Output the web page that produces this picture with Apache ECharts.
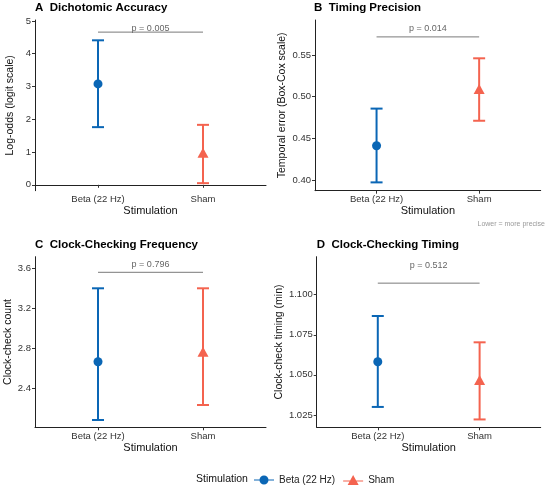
<!DOCTYPE html>
<html><head><meta charset="utf-8">
<script src="https://cdn.jsdelivr.net/npm/echarts@6/dist/echarts.min.js"></script>
<style>html,body{margin:0;padding:0;background:#fff}#c{width:550px;height:489px}</style>
</head><body><div id="c"></div>
<script>
const categories = ['Beta (22 Hz)', 'Sham'];
const panelTitles = ['A  Dichotomic Accuracy', 'B  Timing Precision', 'C  Clock-Checking Frequency', 'D  Clock-Checking Timing'];
const yNames = ['Log-odds (logit scale)', 'Temporal error (Box-Cox scale)', 'Clock-check count', 'Clock-check timing (min)'];
const meanBeta = [3.08, 0.441, 2.666, 1.0582];
const lowBeta = [1.76, 0.397, 2.083, 1.0300];
const highBeta = [4.41, 0.4856, 3.40, 1.0867];
const meanSham = [0.98, 0.509, 2.766, 1.0468];
const lowSham = [0.05, 0.471, 2.233, 1.0222];
const highSham = [1.83, 0.546, 3.40, 1.0703];
const pLabels = ['p = 0.005', 'p = 0.014', 'p = 0.796', 'p = 0.512'];
const pLineY = [4.66, 0.5717, 3.56, 1.1072];
const pTextY = [4.76, 0.582, 3.633, 1.1184];
const yTicks = [[0, 1, 2, 3, 4, 5], [0.40, 0.45, 0.50, 0.55], [2.4, 2.8, 3.2, 3.6], [1.025, 1.050, 1.075, 1.100]];
const yDecimals = [0, 2, 1, 3];
const yMin = [-0.18, 0.387, 2.01, 1.0173];
const yMax = [5.03, 0.592, 3.716, 1.1237];
const note = 'Lower = more precise';

const BLUE = '#0A66B5', RED = '#F4634F', FONT = 'Liberation Sans, Arial, sans-serif';
const grids = [
  {left: 35, top: 20, width: 231, height: 170.7},
  {left: 315, top: 20, width: 225.7, height: 170.7},
  {left: 35, top: 256.7, width: 231, height: 170.6},
  {left: 316.7, top: 256.7, width: 224, height: 170.6}
];
const yNameGap = [19, 27, 21, 31];
const titlePos = [[35, 2], [314, 2], [35, 239], [316.7, 239]];

const xAxes = [], yAxes = [], series = [], titles = [];
function errRender(color) {
  return function (params, api) {
    const x = api.value(0), lo = api.value(1), hi = api.value(2);
    const a = api.coord([x, lo]), b = api.coord([x, hi]);
    const hw = 6, st = {stroke: color, lineWidth: 2};
    return {type: 'group', children: [
      {type: 'line', shape: {x1: a[0], y1: a[1], x2: b[0], y2: b[1]}, style: st},
      {type: 'line', shape: {x1: a[0] - hw, y1: a[1], x2: a[0] + hw, y2: a[1]}, style: st},
      {type: 'line', shape: {x1: b[0] - hw, y1: b[1], x2: b[0] + hw, y2: b[1]}, style: st}
    ]};
  };
}
for (let i = 0; i < 4; i++) {
  xAxes.push({
    gridIndex: i, type: 'value', min: 0.4, max: 2.6,
    name: 'Stimulation', nameLocation: 'middle', nameGap: 15,
    nameTextStyle: {fontSize: 11, color: '#111', fontFamily: FONT},
    axisLine: {show: true, lineStyle: {color: '#222', width: 1}},
    axisTick: {show: true, length: 3, lineStyle: {color: '#333'}, customValues: [1, 2]},
    axisLabel: {customValues: [1, 2], formatter: v => categories[Math.round(v) - 1], fontSize: 9.5, color: '#333', margin: 4, fontFamily: FONT},
    splitLine: {show: false}
  });
  yAxes.push({
    gridIndex: i, type: 'value', min: yMin[i], max: yMax[i],
    name: yNames[i], nameLocation: 'middle', nameGap: yNameGap[i], nameRotate: 90,
    nameTextStyle: {fontSize: 10.5, color: '#111', fontFamily: FONT},
    axisLine: {show: true, lineStyle: {color: '#222', width: 1}},
    axisTick: {show: true, length: 3, lineStyle: {color: '#333'}, customValues: yTicks[i]},
    axisLabel: {customValues: yTicks[i], formatter: v => Number(v).toFixed(yDecimals[i]), fontSize: 9.5, color: '#333', margin: 4, fontFamily: FONT},
    splitLine: {show: false}
  });
  titles.push({text: panelTitles[i], left: titlePos[i][0], top: titlePos[i][1], padding: 0,
    textStyle: {fontSize: 11.5, fontWeight: 'bold', color: '#000', fontFamily: FONT}});
  series.push({type: 'custom', name: 'eb' + i + 'a', xAxisIndex: i, yAxisIndex: i, renderItem: errRender(BLUE),
    data: [[1, lowBeta[i], highBeta[i]]], encode: {x: 0, y: [1, 2]}, silent: true, z: 2});
  series.push({type: 'custom', name: 'eb' + i + 'b', xAxisIndex: i, yAxisIndex: i, renderItem: errRender(RED),
    data: [[2, lowSham[i], highSham[i]]], encode: {x: 0, y: [1, 2]}, silent: true, z: 2});
  series.push({type: 'scatter', name: categories[0], xAxisIndex: i, yAxisIndex: i, symbol: 'circle', symbolSize: 9,
    itemStyle: {color: BLUE, opacity: 1}, data: [[1, meanBeta[i]]], z: 3});
  series.push({type: 'scatter', name: categories[1], xAxisIndex: i, yAxisIndex: i, symbol: 'triangle', symbolSize: [11, 10],
    itemStyle: {color: RED, opacity: 1}, data: [[2, meanSham[i]]], z: 3});
  const lbl = pLabels[i];
  series.push({type: 'custom', name: 'p' + i, xAxisIndex: i, yAxisIndex: i,
    renderItem: function (params, api) {
      const y = api.value(2), ty = api.value(3);
      const a = api.coord([api.value(0), y]), b = api.coord([api.value(1), y]);
      const t = api.coord([(api.value(0) + api.value(1)) / 2, ty]);
      return {type: 'group', children: [
        {type: 'line', shape: {x1: a[0], y1: a[1], x2: b[0], y2: b[1]}, style: {stroke: '#7a7a7a', lineWidth: 1}},
        {type: 'text', x: t[0], y: t[1], style: {text: lbl, fill: '#666', fontSize: 9, fontFamily: FONT, align: 'center', verticalAlign: 'middle'}}
      ]};
    },
    data: [[1, 2, pLineY[i], pTextY[i]]], encode: {x: [0, 1], y: [2, 3]}, silent: true, z: 1});
}

const chart = echarts.init(document.getElementById('c'), null, {renderer: 'canvas'});
chart.setOption({
  animation: false,
  backgroundColor: '#fff',
  title: titles,
  grid: grids,
  xAxis: xAxes,
  yAxis: yAxes,
  series: series,
  legend: {
    data: [
      {name: categories[0], icon: 'path://M0,4.4 L20,4.4 L20,5.6 L0,5.6 Z M10,0.5 A4.5,4.5 0 1 1 9.99,0.5 Z', itemStyle: {color: BLUE, opacity: 1}},
      {name: categories[1], icon: 'path://M0,5.4 L20,5.4 L20,6.6 L0,6.6 Z M10,0 L15.5,10 L4.5,10 Z', itemStyle: {color: RED, opacity: 1}}
    ],
    left: 254, top: 475, itemWidth: 20, itemHeight: 10, itemGap: 8, padding: 0,
    textStyle: {fontSize: 10, color: '#222', fontFamily: FONT}, selectedMode: false
  },
  graphic: [
    {type: 'text', left: 196, top: 474, style: {text: 'Stimulation', fontSize: 10.5, fill: '#111', fontFamily: FONT}},
    {type: 'text', right: 5, top: 221, style: {text: note, fontSize: 7, fill: '#999', fontFamily: FONT}}
  ]
});
</script></body></html>
